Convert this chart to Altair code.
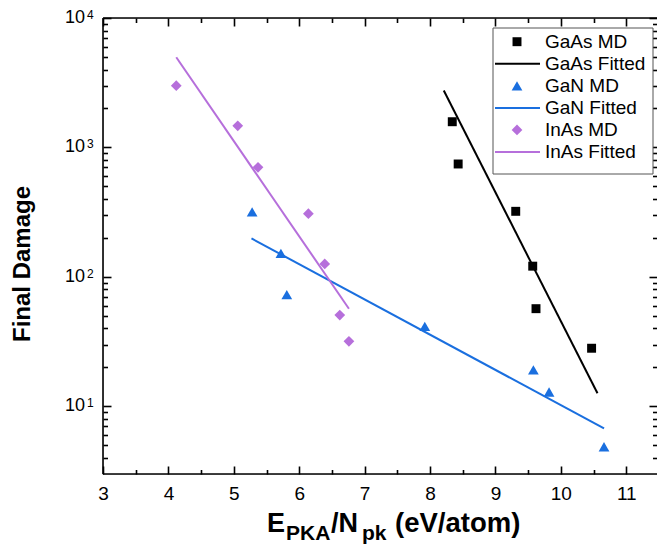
import altair as alt
import pandas as pd

# ---------------- data ----------------
series_names = ["GaAs", "GaN", "InAs"]
md_labels = ["GaAs MD", "GaN MD", "InAs MD"]
fit_labels = ["GaAs Fitted", "GaN Fitted", "InAs Fitted"]
colors = ["#000000", "#1A6FDF", "#B66FDB"]
shapes = ["square", "triangle-up", "diamond"]
sizes = [80, 115, 115]

gaas_x = [8.34, 8.43, 9.31, 9.57, 9.62, 10.47]
gaas_y = [1580, 745, 321, 121, 56.8, 28.1]
gan_x = [5.28, 5.72, 5.81, 7.92, 9.58, 9.82, 10.66]
gan_y = [318, 152, 73, 41.5, 19.1, 12.9, 4.87]
inas_x = [4.12, 5.06, 5.37, 6.14, 6.39, 6.62, 6.76]
inas_y = [3000, 1470, 702, 308, 126, 50.7, 31.8]

gaas_fit_x = [8.21, 10.56]
gaas_fit_y = [2750, 12.6]
gan_fit_x = [5.27, 10.66]
gan_fit_y = [198, 6.75]
inas_fit_x = [4.12, 6.76]
inas_fit_y = [4980, 56.7]

x_major = [3, 4, 5, 6, 7, 8, 9, 10, 11]
x_minor = [3.5, 4.5, 5.5, 6.5, 7.5, 8.5, 9.5, 10.5]
y_major = [10, 100, 1000, 10000]
y_major_exp = ["1", "2", "3", "4"]
y_minor = [4, 5, 6, 7, 8, 9,
           20, 30, 40, 50, 60, 70, 80, 90,
           200, 300, 400, 500, 600, 700, 800, 900,
           2000, 3000, 4000, 5000, 6000, 7000, 8000, 9000]

md_x = [gaas_x, gan_x, inas_x]
md_y = [gaas_y, gan_y, inas_y]
fit_x = [gaas_fit_x, gan_fit_x, inas_fit_x]
fit_y = [gaas_fit_y, gan_fit_y, inas_fit_y]

# ---------------- layout ----------------
W, H = 554, 456
FONT = "Liberation Sans"
xs = alt.Scale(domain=[3, 11.47], nice=False, zero=False)
ys = alt.Scale(type="log", domain=[3, 10000], nice=False)

xaxis = alt.Axis(values=x_major, ticks=False, domain=False, grid=False,
                 labelFontSize=19, labelFont=FONT, labelColor="black",
                 labelPadding=10, labelFlush=False, title=None, format="d")


def tick_axis(orient, vals, L):
    # axis moved inside the plot by its tick length -> inward ticks
    return alt.Axis(orient=orient, offset=-L, values=vals, tickSize=L, tickWidth=1.6,
                    tickColor="black", ticks=True, labels=False, domain=False,
                    grid=False, title=None)


one = pd.DataFrame({"k": [0]})
layers = []

# fitted lines
for name, fx, fy, col in zip(series_names, fit_x, fit_y, colors):
    df = pd.DataFrame({"x": fx, "y": fy})
    layers.append(
        alt.Chart(df).mark_line(color=col, strokeWidth=2).encode(
            x=alt.X("x:Q", scale=xs, axis=xaxis if name == "GaAs" else None),
            y=alt.Y("y:Q", scale=ys, axis=None),
        )
    )

# MD points
for name, mx, my, col, shp, sz in zip(series_names, md_x, md_y, colors, shapes, sizes):
    df = pd.DataFrame({"x": mx, "y": my})
    layers.append(
        alt.Chart(df).mark_point(shape=shp, filled=True, color=col, size=sz, opacity=1).encode(
            x=alt.X("x:Q", scale=xs, axis=None),
            y=alt.Y("y:Q", scale=ys, axis=None),
        )
    )

# inward ticks drawn by extra axes on the shared scales
for orient, vals, L in (("bottom", x_major, 8), ("bottom", x_minor, 4.5),
                        ("top", x_major, 8), ("top", x_minor, 4.5)):
    d = pd.DataFrame({"xt": vals})
    layers.append(alt.Chart(d).mark_point(opacity=0).encode(
        x=alt.X("xt:Q", scale=xs, axis=tick_axis(orient, vals, L)),
        y=alt.value(H / 2)))
for orient, vals, L in (("left", y_major, 8), ("left", y_minor, 4.5),
                        ("right", y_major, 8), ("right", y_minor, 4.5)):
    d = pd.DataFrame({"yt": vals})
    layers.append(alt.Chart(d).mark_point(opacity=0).encode(
        y=alt.Y("yt:Q", scale=ys, axis=tick_axis(orient, vals, L)),
        x=alt.value(W / 2)))

# frame (left, bottom, top)
frame = dict(color="black", strokeWidth=1.6)
layers.append(alt.Chart(one).mark_rule(**frame).encode(
    x=alt.value(0), y=alt.value(0), y2=alt.value(H)))
layers.append(alt.Chart(one).mark_rule(**frame).encode(
    x=alt.value(0), x2=alt.value(W), y=alt.value(H)))
layers.append(alt.Chart(one).mark_rule(**frame).encode(
    x=alt.value(0), x2=alt.value(W), y=alt.value(0)))

# y tick labels 10^n
ylab = pd.DataFrame({"v": y_major, "e": y_major_exp})
layers.append(alt.Chart(ylab).mark_text(
    text="10", align="right", baseline="middle", fontSize=18, font=FONT, color="black"
).encode(y=alt.Y("v:Q", scale=ys, axis=None), x=alt.value(-18)))
layers.append(alt.Chart(ylab).mark_text(
    align="left", baseline="alphabetic", fontSize=12, font=FONT, color="black", dy=1
).encode(y=alt.Y("v:Q", scale=ys, axis=None), x=alt.value(-16), text="e:N"))

# y title
layers.append(alt.Chart(one).mark_text(
    text="Final Damage", angle=270, align="center", baseline="alphabetic",
    fontSize=24, fontWeight="bold", font=FONT, color="black"
).encode(x=alt.value(-73), y=alt.value(246)))

# x title with subscripts
pieces = [("E", 164, 514, 27), ("PKA", 183, 522, 21), ("/N", 228, 514, 27),
          ("pk", 259, 522, 21), ("(eV/atom)", 292, 514, 27.5)]
for t, px, py, fs in pieces:
    layers.append(alt.Chart(one).mark_text(
        text=t, align="left", baseline="alphabetic", fontSize=fs,
        fontWeight="bold", font=FONT, color="black"
    ).encode(x=alt.value(px), y=alt.value(py)))

# legend box
layers.append(alt.Chart(one).mark_rect(fill="white", stroke="#555555", strokeWidth=1).encode(
    x=alt.value(390), x2=alt.value(550), y=alt.value(10), y2=alt.value(156)))

row0, dy = 23.7, 22.06
for i, (col, shp, sz) in enumerate(zip(colors, shapes, sizes)):
    ymd = row0 + dy * (2 * i)
    yft = row0 + dy * (2 * i + 1)
    layers.append(alt.Chart(one).mark_point(shape=shp, filled=True, color=col, size=sz, opacity=1).encode(
        x=alt.value(414), y=alt.value(ymd)))
    layers.append(alt.Chart(one).mark_rule(color=col, strokeWidth=2).encode(
        x=alt.value(392), x2=alt.value(437), y=alt.value(yft)))
    layers.append(alt.Chart(one).mark_text(
        text=md_labels[i], align="left", baseline="middle", fontSize=19, font=FONT, color="black"
    ).encode(x=alt.value(442), y=alt.value(ymd)))
    layers.append(alt.Chart(one).mark_text(
        text=fit_labels[i], align="left", baseline="middle", fontSize=19, font=FONT, color="black"
    ).encode(x=alt.value(442), y=alt.value(yft)))

chart = alt.layer(*layers).resolve_axis(x="independent", y="independent").properties(
    width=W, height=H,
    padding={"left": 103, "top": 18, "right": 0, "bottom": 73},
    autosize=alt.AutoSizeParams(type="none"),
    background="white",
).configure_view(stroke="transparent").configure(font=FONT)

chart.save("out.html", embed_options={"renderer": "svg", "actions": False})
